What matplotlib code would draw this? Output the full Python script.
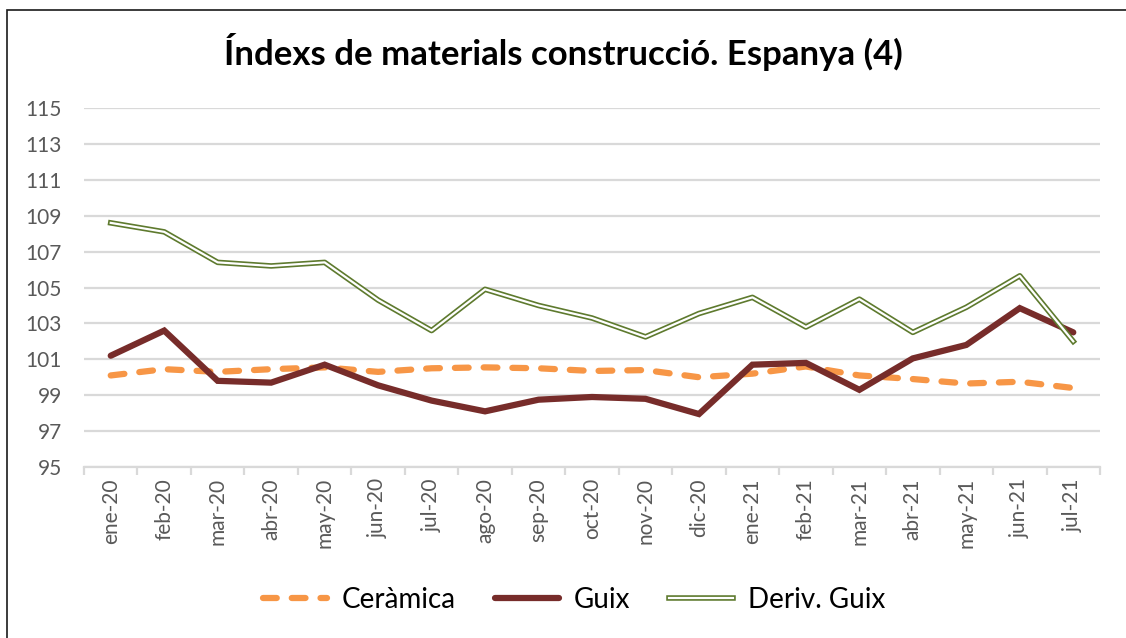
import matplotlib.pyplot as plt
import matplotlib.patches as mpatches
from matplotlib.lines import Line2D
from matplotlib.legend_handler import HandlerTuple
import numpy as np

# =========================
# dades
# =========================
mesos = ["ene-20", "feb-20", "mar-20", "abr-20", "may-20", "jun-20", "jul-20",
         "ago-20", "sep-20", "oct-20", "nov-20", "dic-20", "ene-21", "feb-21",
         "mar-21", "abr-21", "may-21", "jun-21", "jul-21"]

ceramica = [100.1, 100.45, 100.3, 100.45, 100.55, 100.3, 100.5, 100.55, 100.5,
            100.35, 100.4, 100.0, 100.2, 100.6, 100.1, 99.9, 99.65, 99.75, 99.4]

guix = [101.2, 102.6, 99.8, 99.7, 100.7, 99.55, 98.7, 98.1, 98.75, 98.9,
        98.8, 97.95, 100.7, 100.8, 99.3, 101.05, 101.8, 103.85, 102.5]

deriv_guix = [108.6, 108.1, 106.4, 106.2, 106.4, 104.3, 102.6, 104.9, 104.0,
              103.3, 102.25, 103.55, 104.45, 102.8, 104.35, 102.5, 103.9, 105.65, 102.0]

yticks = [95, 97, 99, 101, 103, 105, 107, 109, 111, 113, 115]

# =========================
# figura
# =========================
plt.rcParams["font.family"] = ["Lato", "DejaVu Sans"]

fig = plt.figure(figsize=(11.26, 6.38), dpi=100)
ax = fig.add_axes([84 / 1126, 1 - 467 / 638, (1100 - 84) / 1126, (467 - 108) / 638])

# marc negre del gràfic
fig.patches.append(mpatches.Rectangle((7 / 1126, -0.05), 1.1, 1 - 10 / 638 + 0.05,
                                      transform=fig.transFigure, fill=False,
                                      edgecolor="#1a1a1a", linewidth=1.2))

x = np.arange(len(mesos))
guions = (0, (2.2, 2.4))

ax.plot(x, ceramica, color="#F79646", linewidth=4.5, linestyle=guions,
        dash_capstyle="round", zorder=3)
ax.plot(x, guix, color="#772C2A", linewidth=4.5, solid_capstyle="round",
        solid_joinstyle="miter", zorder=4)
ax.plot(x, deriv_guix, color="#5E7A2E", linewidth=4, zorder=5)
ax.plot(x, deriv_guix, color="white", linewidth=1.6, zorder=6)

ax.set_xlim(-0.5, len(mesos) - 0.5)
ax.set_ylim(95, 115)
ax.set_yticks(yticks)
ax.grid(axis="y", color="#d9d9d9", linewidth=1.6)
ax.set_axisbelow(True)

for s in ["top", "right", "left"]:
    ax.spines[s].set_visible(False)
ax.spines["bottom"].set_color("#d9d9d9")
ax.spines["bottom"].set_linewidth(1.6)

ax.set_xticks(x)
ax.set_xticklabels(mesos, rotation=90)
ax.set_xticks(np.arange(-0.5, len(mesos), 1), minor=True)
ax.tick_params(axis="x", which="major", length=0, pad=8, labelsize=15, labelcolor="#595959")
ax.tick_params(axis="x", which="minor", length=6, width=1.6, color="#d9d9d9")
ax.tick_params(axis="y", length=0, pad=16, labelsize=15, labelcolor="#595959")

fig.text(0.5, 1 - 52 / 638, "Índexs de materials construcció. Espanya (4)",
         ha="center", va="center", fontsize=25, fontweight="bold", color="black")

h_cer = Line2D([], [], color="#F79646", linewidth=4.5, linestyle=guions,
               dash_capstyle="round")
h_guix = Line2D([], [], color="#772C2A", linewidth=4.5, solid_capstyle="round")
h_dg1 = Line2D([], [], color="#5E7A2E", linewidth=4)
h_dg2 = Line2D([], [], color="white", linewidth=1.6)

fig.legend([h_cer, h_guix, (h_dg1, h_dg2)], ["Ceràmica", "Guix", "Deriv. Guix"],
           handler_map={tuple: HandlerTuple(ndivide=1)},
           loc="center", bbox_to_anchor=(0.51, 1 - 600 / 638), ncol=3, frameon=False,
           fontsize=20, handlelength=2.3, handletextpad=0.55, columnspacing=1.4)

fig.savefig("out.png", dpi=100)
